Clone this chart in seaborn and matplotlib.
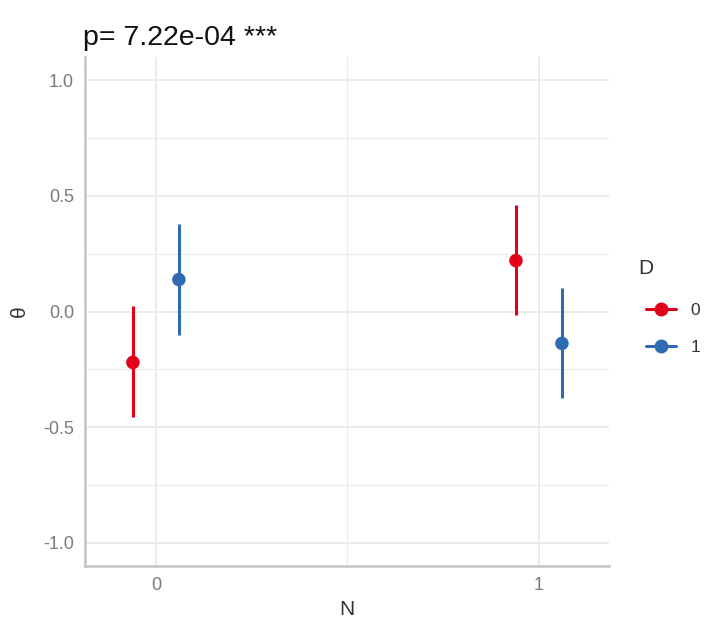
import numpy as np
import pandas as pd
import matplotlib
matplotlib.use('Agg')
import matplotlib.pyplot as plt
from matplotlib.lines import Line2D
from matplotlib.ticker import MultipleLocator
import seaborn as sns

# ── DATA ─────────────────────────────────────────────────────────────────────
n_levels = [0, 0, 1, 1]
d_levels = ["0", "1", "0", "1"]
theta    = [-0.220, 0.138, 0.220, -0.138]
lower    = [-0.457, -0.103, -0.017, -0.375]
upper    = [0.022, 0.379, 0.461, 0.103]
title    = "p= 7.22e-04 ***"

palette = {"0": "#E2001A", "1": "#2E6BB1"}
dodge   = {"0": -0.06, "1": 0.06}

df = pd.DataFrame({"N": n_levels, "D": d_levels, "theta": theta,
                   "lo": lower, "hi": upper})
df["xpos"] = df["N"] + df["D"].map(dodge)

# ── STYLE ────────────────────────────────────────────────────────────────────
sns.set_theme(style="white")
plt.rcParams['font.family'] = ['Liberation Sans', 'DejaVu Sans']

fig = plt.figure(figsize=(7.05, 6.19), dpi=100)
ax = fig.add_axes([0.1206, 0.0856, 0.7433, 0.8223])

# error bars
for _, r in df.iterrows():
    ax.vlines(r["xpos"], r["lo"], r["hi"], color=palette[r["D"]], lw=2.2, zorder=3)

sns.scatterplot(data=df, x="xpos", y="theta", hue="D", palette=palette,
                s=95, edgecolor="none", legend=False, ax=ax, zorder=4)

ax.set_xlim(-0.185, 1.183)
ax.set_ylim(-1.1, 1.1)
ax.set_xticks([0, 1])
ax.set_xticklabels(["0", "1"])
ax.xaxis.set_minor_locator(MultipleLocator(0.5))
ax.yaxis.set_minor_locator(MultipleLocator(0.25))
ax.set_yticks([-1.0, -0.5, 0.0, 0.5, 1.0])
ax.set_yticklabels(["-1.0", "-0.5", "0.0", "0.5", "1.0"])

ax.grid(which="major", color="#EBEBEB", lw=1.4)
ax.grid(which="minor", color="#EBEBEB", lw=0.8)
ax.set_axisbelow(True)

for s in ["top", "right"]:
    ax.spines[s].set_visible(False)
for s in ["left", "bottom"]:
    ax.spines[s].set_color("#C4C4C4")
    ax.spines[s].set_linewidth(1.8)

ax.tick_params(axis="both", which="both", length=0, labelsize=13,
               labelcolor="#7A7A7A", pad=8)

ax.set_xlabel("N", fontsize=15, color="#333333", labelpad=4)
ax.set_ylabel("θ", fontsize=15, color="#333333", labelpad=10)
ax.set_title(title, fontsize=20.5, color="#111111", loc="left", x=-0.003, pad=9)

# legend
handles = [Line2D([0], [0], color=palette[k], lw=2.2, marker="o", markersize=9)
           for k in ["0", "1"]]
leg = fig.legend(handles, ["0", "1"], loc="center left",
                 bbox_to_anchor=(0.896, 0.468), frameon=False, fontsize=12.5,
                 handlelength=1.78, labelspacing=1.25, handletextpad=0.8,
                 borderpad=0.3)
for t in leg.get_texts():
    t.set_color("#333333")
fig.text(0.906, 1 - 268 / 619, "D", fontsize=15, color="#333333",
         ha="left", va="center")

plt.savefig("out.png", dpi=100)
plt.close()
